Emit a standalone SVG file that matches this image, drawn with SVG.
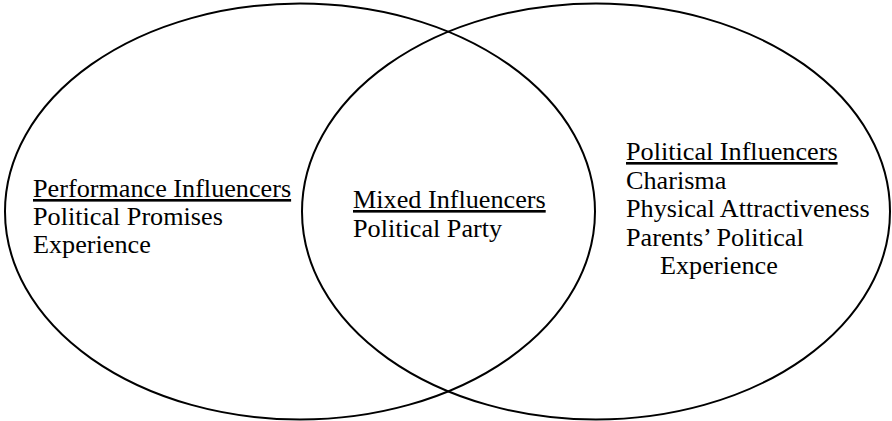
<svg xmlns="http://www.w3.org/2000/svg" width="892" height="421" viewBox="0 0 892 421">
<style>
.c{fill:none;stroke:#000;stroke-width:2}
.t{font-family:"Liberation Serif","Times New Roman",serif;font-size:26.2px;fill:#000}
.u{text-decoration:underline}
</style>
<rect width="892" height="421" fill="#fff"/>
<g id="connectors"></g>
<g id="left">
<ellipse class="c" cx="300" cy="211.5" rx="295" ry="208"/>
<text class="t" x="33" y="197"><tspan class="u">Performance Influencers</tspan></text>
<text class="t" x="33" y="225">Political Promises</text>
<text class="t" x="33" y="253">Experience</text>
</g>
<g id="right">
<ellipse class="c" cx="596" cy="211.5" rx="294" ry="208"/>
<text class="t" x="626" y="160"><tspan class="u">Political Influencers</tspan></text>
<text class="t" x="626" y="188.5">Charisma</text>
<text class="t" x="626" y="217">Physical Attractiveness</text>
<text class="t" x="626" y="245.5">Parents’ Political</text>
<text class="t" x="660" y="274">Experience</text>
</g>
<g id="middle">
<text class="t" x="353" y="208"><tspan class="u">Mixed Influencers</tspan></text>
<text class="t" x="353" y="237">Political Party</text>
</g>
</svg>
